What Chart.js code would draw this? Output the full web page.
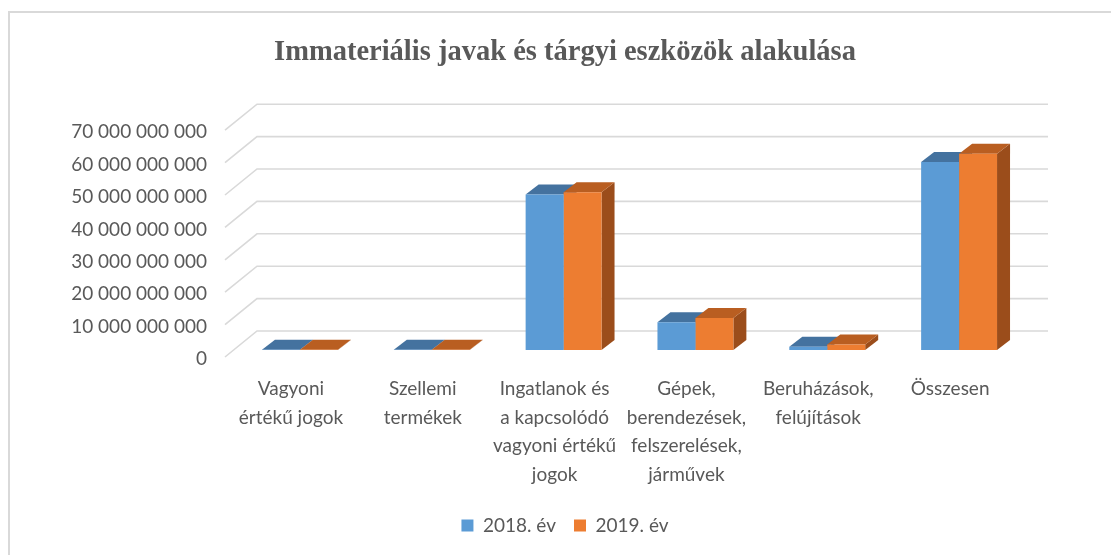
<!DOCTYPE html>
<html>
<head>
<meta charset="utf-8">
<script src="https://cdn.jsdelivr.net/npm/chart.js@4.4.1/dist/chart.umd.min.js"></script>
<style>
  html, body { margin: 0; padding: 0; background: #fff; }
  #wrap { width: 1111px; height: 555px; }
</style>
</head>
<body>
<div id="wrap"><canvas id="chart" width="1111" height="555"></canvas></div>
<script>
// categories and series (HUF)
const categories = [
  ["Vagyoni", "értékű jogok"],
  ["Szellemi", "termékek"],
  ["Ingatlanok és", "a kapcsolódó", "vagyoni értékű", "jogok"],
  ["Gépek,", "berendezések,", "felszerelések,", "járművek"],
  ["Beruházások,", "felújítások"],
  ["Összesen"],
];
const values2018 = [50000000, 40000000, 48000000000, 8600000000, 1000000000, 58000000000];
const values2019 = [50000000, 40000000, 48700000000, 9900000000, 1700000000, 60600000000];
const yTicks = [0, 10000000000, 20000000000, 30000000000, 40000000000, 50000000000, 60000000000, 70000000000];

const textColor = "#595959";
const gridColor = "#d9d9d9";

// 3D look: bar depth and wall offsets relative to the bar plane
const bar3d = { dx: 13, dy: 10 };
const wall = { frontX: -9, frontY: 7, backX: 23, backY: -19 };

function fmtSpace(v) {
  return String(v).replace(/\B(?=(\d{3})+(?!\d))/g, " ");
}

const frameAndWalls = {
  id: "frameAndWalls",
  beforeDraw(chart) {
    const ctx = chart.ctx;
    ctx.save();
    ctx.strokeStyle = gridColor;
    ctx.lineWidth = 2;
    ctx.beginPath();
    ctx.moveTo(9, 560);
    ctx.lineTo(9, 12);
    ctx.lineTo(1120, 12);
    ctx.stroke();
    ctx.restore();
  },
  beforeDatasetsDraw(chart) {
    const ctx = chart.ctx;
    const area = chart.chartArea;
    const y = chart.scales.y;
    ctx.save();
    // gridlines: diagonal on the floor side, then along the back wall
    ctx.strokeStyle = gridColor;
    ctx.lineWidth = 1.6;
    yTicks.forEach((v) => {
      const p = y.getPixelForValue(v);
      ctx.beginPath();
      ctx.moveTo(area.left + wall.frontX, p + wall.frontY);
      ctx.lineTo(area.left + wall.backX, p + wall.backY);
      ctx.lineTo(area.right + wall.backX, p + wall.backY);
      ctx.stroke();
    });
    // side and top faces of the bars
    const shades = [
      { top: "#44729f", side: "#3f6a94" },
      { top: "#b95e21", side: "#9b4d1b" },
    ];
    const metas = [chart.getDatasetMeta(0), chart.getDatasetMeta(1)];
    for (let i = 0; i < categories.length; i++) {
      metas.forEach((meta, d) => {
        const el = meta.data[i];
        const l = el.x - el.width / 2;
        const r = el.x + el.width / 2;
        const top = Math.min(el.y, el.base);
        const base = el.base;
        ctx.fillStyle = shades[d].side;
        ctx.beginPath();
        ctx.moveTo(r, top);
        ctx.lineTo(r + bar3d.dx, top - bar3d.dy);
        ctx.lineTo(r + bar3d.dx, base - bar3d.dy);
        ctx.lineTo(r, base);
        ctx.closePath();
        ctx.fill();
        ctx.fillStyle = shades[d].top;
        ctx.beginPath();
        ctx.moveTo(l, top);
        ctx.lineTo(r, top);
        ctx.lineTo(r + bar3d.dx, top - bar3d.dy);
        ctx.lineTo(l + bar3d.dx, top - bar3d.dy);
        ctx.closePath();
        ctx.fill();
      });
    }
    ctx.restore();
  },
};

new Chart(document.getElementById("chart"), {
  type: "bar",
  data: {
    labels: categories,
    datasets: [
      { label: "2018. év", data: values2018, backgroundColor: "#5b9bd5", borderWidth: 0 },
      { label: "2019. év", data: values2019, backgroundColor: "#ed7d31", borderWidth: 0 },
    ],
  },
  options: {
    responsive: false,
    animation: false,
    events: [],
    categoryPercentage: 76 / 132,
    barPercentage: 1,
    layout: { padding: { left: 60, right: 41, top: 0, bottom: 10 } },
    plugins: {
      title: {
        display: true,
        text: "Immateriális javak és tárgyi eszközök alakulása",
        color: textColor,
        font: { family: "Liberation Serif", size: 28.5, weight: "bold" },
        padding: { top: 36, bottom: 53 },
      },
      legend: {
        position: "bottom",
        labels: {
          color: textColor,
          font: { family: "Lato", size: 19 },
          boxWidth: 12,
          boxHeight: 12,
          padding: 18,
        },
      },
      tooltip: { enabled: false },
    },
    scales: {
      x: {
        grid: { display: false },
        border: { display: false },
        ticks: {
          color: textColor,
          font: { family: "Lato", size: 19, lineHeight: 1.5 },
          padding: 17,
          labelOffset: -9,
          maxRotation: 0,
          autoSkip: false,
        },
        afterFit: (s) => { s.height = 148; },
      },
      y: {
        min: 0,
        max: 70000000000,
        grid: { display: false },
        border: { display: false },
        afterBuildTicks: (s) => { s.ticks = yTicks.map((v) => ({ value: v })); },
        ticks: {
          color: textColor,
          font: { family: "Lato", size: 19 },
          padding: 19,
          labelOffset: 9,
          callback: (v) => fmtSpace(v),
        },
        afterFit: (s) => { s.width = 174; },
      },
      // empty axis on the right, only reserves room for the back wall
      yRight: {
        type: "linear",
        position: "right",
        grid: { display: false },
        border: { display: false },
        ticks: { display: false },
        afterFit: (s) => { s.width = 45; },
      },
    },
  },
  plugins: [frameAndWalls],
});
</script>
</body>
</html>
